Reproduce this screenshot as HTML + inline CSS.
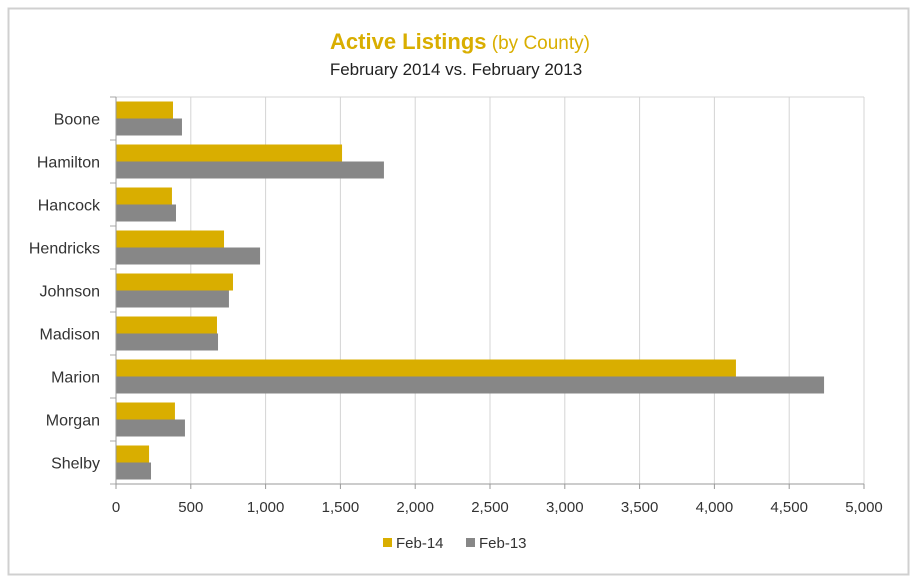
<!DOCTYPE html>
<html><head><meta charset="utf-8"><style>
body{margin:0;background:#fff;font-family:"Liberation Sans",sans-serif}
</style></head><body>
<svg width="921" height="582">
<rect x="8.5" y="8.5" width="900" height="566" fill="#fff" stroke="#d0d0d0" stroke-width="2"/>
<text x="460" y="49" text-anchor="middle" font-size="22" fill="#d9ae00"><tspan font-weight="bold">Active Listings</tspan><tspan font-size="19"> (by County)</tspan></text>
<text x="456" y="75" text-anchor="middle" font-size="17" fill="#222">February 2014 vs.  February 2013</text>
<g id="grid"></g><g id="bars"></g><g id="axes"></g>
<g>
<rect x="383" y="538" width="9" height="9" fill="#d9ae00"/>
<text x="396" y="548" font-size="15" fill="#333">Feb-14</text>
<rect x="466" y="538" width="9" height="9" fill="#878787"/>
<text x="479" y="548" font-size="15" fill="#333">Feb-13</text>
</g>
</svg>
<script>
const categories=["Boone","Hamilton","Hancock","Hendricks","Johnson","Madison","Marion","Morgan","Shelby"];
const feb14=[381,1511,374,722,782,675,4144,394,221];
const feb13=[441,1791,401,963,755,682,4733,461,234];
const ticks=[0,500,1000,1500,2000,2500,3000,3500,4000,4500,5000];
const NS="http://www.w3.org/2000/svg";
const L=116,R=864,T=97,B=484,MAX=5000;
const x=v=>L+(R-L)*v/MAX;
const band=(B-T)/categories.length;
const y=i=>T+band*i;
function mk(p,tag,at){const e=document.createElementNS(NS,tag);for(const k in at)e.setAttribute(k,at[k]);p.appendChild(e);return e;}
const grid=document.getElementById('grid'),bars=document.getElementById('bars'),axes=document.getElementById('axes');
ticks.forEach(t=>{
 const l=mk(grid,'line',{x1:x(t),x2:x(t),y1:T,y2:B,stroke:'#d4d4d4','stroke-width':1});
 
 
 const tx=mk(axes,'text',{x:x(t),y:B+28,'text-anchor':'middle','font-size':15,fill:'#333'});
 tx.textContent=t.toLocaleString('en-US');
 
 
});
mk(grid,'line',{x1:L,x2:R,y1:T,y2:T,stroke:'#d4d4d4'});
categories.forEach((c,i)=>{
 const y0=y(i)+4.5;
 const b1=mk(bars,'rect',{x:L,y:y0,width:x(feb14[i])-L,height:17,fill:'#d9ae00'});
 
 
 const b2=mk(bars,'rect',{x:L,y:y0+17,width:x(feb13[i])-L,height:17,fill:'#878787'});
 
 
 const t=mk(axes,'text',{x:100,y:y(i)+band/2+6,'text-anchor':'end','font-size':16,fill:'#333'});
 t.textContent=c;
 
 
 mk(axes,'line',{x1:110,x2:L,y1:y(i),y2:y(i),stroke:'#aaa'});
});
mk(axes,'line',{x1:110,x2:L,y1:B,y2:B,stroke:'#aaa'});
const ya=mk(axes,'line',{x1:L,x2:L,y1:T,y2:B,stroke:'#999'});


const xa=mk(axes,'line',{x1:L,x2:R,y1:B,y2:B,stroke:'#999'});


ticks.forEach(t=>mk(axes,'line',{x1:x(t),x2:x(t),y1:B,y2:B+5,stroke:'#999'}));
</script>
</body></html>
